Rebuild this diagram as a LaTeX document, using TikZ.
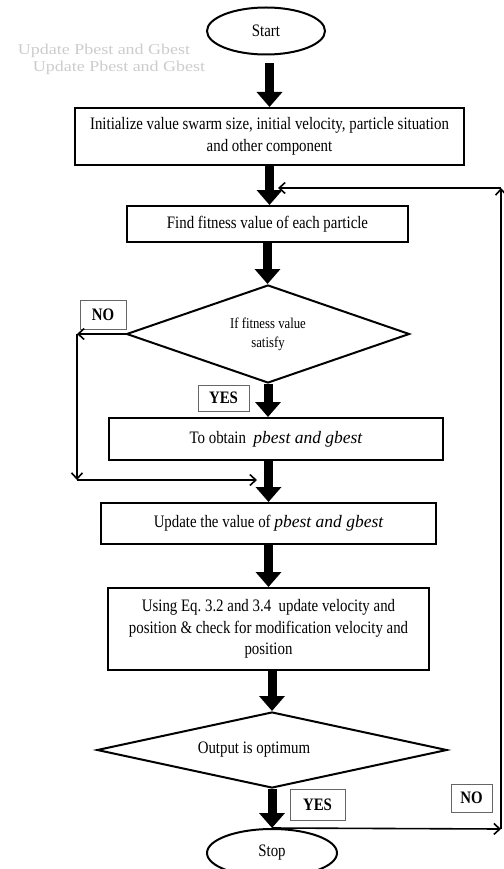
\documentclass[tikz,border=0pt]{standalone}
\usepackage{fontspec}
\setmainfont{Liberation Serif}[FakeStretch=0.85]
\newfontfamily\plainfont{Liberation Serif}
\newfontfamily\ghostfont{Liberation Serif}[FakeStretch=1.2]
\usetikzlibrary{shapes.geometric, arrows.meta}

\tikzset{
  box/.style={draw, line width=2pt, inner sep=0pt, align=center, font=\fontsize{17.5}{21.5}\selectfont},
  term/.style={draw, ellipse, line width=2pt, inner sep=0pt, font=\fontsize{17.5}{21}\selectfont},
  decision/.style={draw, diamond, line width=2pt, inner sep=0pt, align=center},
  tag/.style={draw=black!60, line width=1pt, inner sep=0pt, font=\bfseries\fontsize{17.5}{21}\selectfont},
  ghost/.style={text=black!20, inner sep=0pt, font=\ghostfont\fontsize{15}{15}\selectfont},
  flow/.style={line width=9pt, -{Triangle[width=25pt,length=15pt]}},
  back/.style={line width=1.6pt, -{Straight Barb[length=6pt,width=11pt]}}
}
\newcommand{\best}{{\plainfont\itshape pbest and gbest}}

\begin{document}
\begin{tikzpicture}[x=1pt, y=-1pt]
    \useasboundingbox (0,0) rectangle (503,869);
    \node[term, minimum width=118pt, minimum height=47pt] (start) at (266,31) {Start};
    \node[ghost] (ghost1) at (104,51) {Update Pbest and Gbest};
    \node[ghost] (ghost2) at (119,68) {Update Pbest and Gbest};
    \node[box, minimum width=389pt, minimum height=57pt] (init) at (269.5,136.5) {Initialize value swarm size, initial velocity, particle situation\\and other component};
    \node[box, minimum width=281pt, minimum height=36pt] (find) at (267.5,224) {Find fitness value of each particle};
    \node[decision, aspect=2.9, minimum width=283pt, minimum height=98pt, font=\fontsize{15}{19}\selectfont] (fit) at (268,334) {If fitness value\\satisfy};
    \node[tag, minimum width=46pt, minimum height=29pt] (no1) at (103,314.5) {NO};
    \node[tag, minimum width=51pt, minimum height=26pt] (yes1) at (223.5,398) {YES};
    \node[box, minimum width=334pt, minimum height=42pt] (obtain) at (276,439) {To obtain \ \best};
    \node[box, minimum width=335pt, minimum height=41pt] (update) at (268.5,523.5) {Update the value of \best};
    \node[box, minimum width=321pt, minimum height=82pt] (using) at (268.5,629) {Using Eq.~3.2 and 3.4\ \ update velocity and\\position \& check for modification velocity and\\position};
    \node[decision, aspect=4.6, minimum width=350pt, minimum height=76pt, font=\fontsize{17.5}{21}\selectfont] (opt) at (272,750) {Output is optimum\hspace{36pt}};
    \node[tag, minimum width=55pt, minimum height=31pt] (yes2) at (317.5,804.5) {YES};
    \node[tag, minimum width=41pt, minimum height=28pt] (no2) at (471.5,798) {NO};
    \node[term, minimum width=130pt, minimum height=48pt] (stop) at (272,853) {Stop};
    \coordinate (j1) at (278,188);
    \coordinate (r2) at (501,188);
    \coordinate (r1) at (501,829);
    \coordinate (l1) at (77,334);
    \coordinate (l2) at (77,480);
    \coordinate (j2) at (257,480);
    \draw[flow, shorten <=8pt] (init.north |- start.south) -- (init.north);
    \draw[flow] (init.south) -- (init.south |- find.north);
    \draw[flow] (find.south) -- (find.south |- fit.north);
    \draw[flow] (fit.south) -- (fit.south |- obtain.north);
    \draw[flow] (update.north |- obtain.south) -- (update.north);
    \draw[flow] (update.south) -- (update.south |- using.north);
    \draw[flow] (opt.north |- using.south) -- (opt.north);
    \draw[flow] (opt.south) -- (stop.north);
    \draw[back] (fit.west) -- (l1);
    \draw[back] (l1) -- (l2);
    \draw[back] (l2) -- (j2);
    \draw[back] (stop.north) -- (r1);
    \draw[back] (r1) -- (r2);
    \draw[back] (r2) -- (j1);
\end{tikzpicture}
\end{document}
